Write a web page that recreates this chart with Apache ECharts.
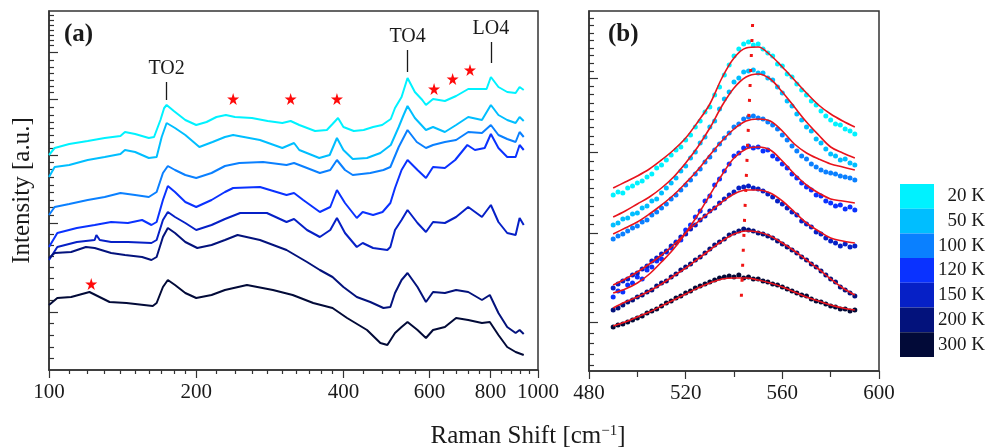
<!DOCTYPE html>
<html>
<head>
<meta charset="utf-8">
<script src="https://cdn.jsdelivr.net/npm/echarts@6/dist/echarts.min.js"></script>
<style>
  html, body { margin: 0; padding: 0; background: #fff; }
  #chart { width: 988px; height: 448px; }
</style>
</head>
<body>
<div id="chart"></div>
<script>
// ---- temperatures and colours ----
const TEMPS = ['20 K', '50 K', '100 K', '120 K', '150 K', '200 K', '300 K'];
const COLORS = ['#00F2FF', '#00BEFF', '#0A80FF', '#0A32FF', '#0620C6', '#03127C', '#020A38'];

// ---- (a) Raman spectra: [Raman shift cm^-1, intensity a.u.] ----
const spec20 = [[100,215],[102.7,222],[110,226],[120,229],[130,232],[140,234],[143,238],[150,236],[160,232],[164,233],[169,250],[172,262],[174,265],[180,259],[190,250],[200,245],[210,248],[220,253],[230,255],[240,253],[260,252],[280,249],[300,247],[312,249],[325,245],[350,239],[370,240],[380,246],[390,252],[400,243],[420,239],[440,240],[460,243],[480,245],[500,251],[510,262],[526,273],[541,292],[560,278],[580,270],[590,265],[610,271],[645,269],[680,274],[720,281],[785,281],[801,293],[830,283],[865,278],[900,277],[917,283],[935,280]];
const spec50 = [[100,193],[102.7,203],[110,205],[120,210],[130,213],[140,216],[143,220],[150,218],[160,212],[166,213],[170,233],[174,247],[181,242],[190,235],[203,223],[216,228],[229,233],[238,235],[270,230],[300,222],[317,227],[325,220],[357,212],[375,215],[388,232],[400,220],[418,211],[447,212],[476,217],[500,225],[519,243],[530,254],[541,264],[560,252],[590,240],[610,243],[645,238],[680,245],[720,253],[768,250],[801,265],[830,255],[865,250],[900,247],[917,253],[935,249]];
const spec100 = [[100,155],[102.7,163],[110,166],[120,170],[130,173],[140,177],[150,175],[160,173],[166,178],[171,197],[175,204],[181,200],[190,195],[200,192],[215,197],[229,204],[245,207],[274,208],[306,205],[317,207],[337,202],[358,197],[376,200],[388,210],[403,200],[418,195],[454,197],[483,200],[499,203],[519,223],[541,240],[565,228],[590,222],[610,225],[645,228],[680,230],[720,238],[768,237],[801,245],[830,235],[865,231],[900,228],[917,238],[935,233]];
const spec120 = [[100,123],[104,137],[114,142],[124,145],[134,148],[145,147],[155,150],[162,145],[166,148],[171,170],[175,184],[181,178],[190,168],[200,163],[215,170],[229,178],[238,182],[270,183],[306,175],[317,177],[331,170],[358,158],[376,163],[388,180],[403,167],[426,152],[438,158],[460,155],[481,158],[499,167],[510,182],[526,200],[541,210],[567,200],[590,192],[610,203],[645,202],[677,210],[717,225],[743,220],[778,222],[801,236],[830,222],[865,213],[900,213],[917,225],[935,220]];
const spec150 = [[100,110],[104,123],[114,128],[124,130],[125,135],[127,130],[134,128],[145,128],[162,127],[166,130],[171,150],[175,158],[181,153],[190,147],[200,140],[215,145],[229,151],[246,157],[279,157],[306,148],[317,151],[337,140],[358,133],[376,140],[388,152],[403,137],[426,123],[438,127],[460,122],[492,120],[499,123],[510,140],[526,150],[541,160],[567,147],[590,138],[610,148],[645,147],[680,153],[720,163],[768,153],[801,165],[830,148],[865,137],[900,135],[917,152],[935,145]];
const spec200 = [[100,112],[102.7,117],[111,118],[119,123],[124,122],[134,117],[143,115],[155,113],[162,110],[166,113],[171,133],[175,142],[181,137],[190,128],[201,122],[215,125],[229,130],[243,135],[270,130],[306,120],[337,108],[358,100],[380,93],[400,83],[426,73],[454,68],[483,62],[499,63],[510,77],[526,90],[541,97],[567,83],[590,68],[610,78],[645,77],[680,80],[720,78],[768,70],[797,75],[830,57],[865,43],[900,37],[917,40],[935,36]];
const spec300 = [[100,65],[104,72],[111,73],[121,78],[133,68],[144,67],[163,64],[166,67],[171,83],[175,90],[181,85],[190,77],[200,72],[215,75],[229,80],[254,85],[287,80],[315,75],[347,67],[380,62],[407,52],[447,40],[476,27],[492,25],[510,37],[526,43],[541,48],[567,40],[590,32],[610,40],[645,43],[680,52],[720,50],[768,47],[797,48],[830,35],[865,23],[900,18],[935,15]];
const SPECTRA = [spec20, spec50, spec100, spec120, spec150, spec200, spec300];

// phonon mode markers and impurity stars in (a)
const modeNames = ['TO2', 'TO4', 'LO4'];
const modeShift = [174, 541, 801];
const modeTickLow = [270, 298, 307];
const modeTickHigh = [288, 320, 328];
const starMarks = [[122,86],[238,271],[312,271],[388,271],[613,281],[669,291],[726,300]];

// ---- (b) TO4 band: measured points and fitted profiles ----
const shiftB = [490,492,494,496,498,500,502,504,506,508,510,512,514,516,518,520,522,524,526,528,530,532,534,536,538,540,542,544,546,548,550,552,554,556,558,560,562,564,566,568,570,572,574,576,578,580,582,584,586,588,590];
const pts20 = [176,179,178,183,185,188,190,194,197,203,206,211,216,221,224,231,236,244,250,259,264,276,284,296,306,315,322,327,329,326,327,322,318,315,307,305,297,294,287,281,276,270,266,260,255,251,247,246,242,240,237];
const pts50 = [146,148,152,153,157,158,163,165,170,172,178,183,188,193,200,205,213,219,228,234,244,250,262,272,279,289,293,299,300,301,298,298,293,291,284,278,270,265,257,251,244,240,232,228,222,217,215,211,212,208,206];
const pts100 = [132,135,137,140,143,145,149,151,156,159,163,167,172,176,181,186,191,197,202,209,214,221,227,233,238,244,247,252,254,255,253,252,249,246,242,236,231,225,220,215,212,207,204,201,199,198,197,195,194,193,191];
const pts120 = [74,80,79,86,88,94,92,101,104,110,112,119,123,129,131,141,146,154,160,170,175,186,192,200,207,215,218,223,225,223,224,220,221,215,212,207,203,197,193,188,184,181,176,175,170,168,165,166,162,164,161];
const pts150 = [83,87,90,92,96,98,102,105,110,113,117,120,125,128,134,137,142,146,151,155,160,163,168,172,176,179,183,184,185,183,182,180,177,174,170,167,163,159,156,150,147,144,139,137,133,130,128,125,127,124,125];
const pts200 = [61,63,66,69,71,74,76,79,81,85,88,90,94,97,101,104,107,111,114,118,122,126,129,132,136,138,140,142,141,140,138,137,135,133,130,127,124,121,118,114,111,107,104,100,96,92,89,84,81,78,75];
const pts300 = [44,46,47,49,51,53,55,58,60,62,65,68,70,73,75,78,80,83,85,87,89,91,93,94,95,94,96,93,94,92,92,90,89,87,86,84,82,80,78,76,75,72,70,69,67,65,64,62,62,60,61];
const POINTS = [pts20, pts50, pts100, pts120, pts150, pts200, pts300];

const fitShift = [490,495,500,505,510,515,520,525,530,535,540,545,550,555,560,565,570,575,580,585,590];
const fit20 = [183,189,195,202,211,221,233,249,267,293,313,323,324,316,304,291,278,266,257,250,244];
const fit50 = [154,160,167,174,183,194,208,224,243,265,283,294,297,292,279,264,249,236,224,218,213];
const fit100 = [137,143,149,157,166,176,188,201,216,230,242,250,252,250,240,227,218,212,207,204,201];
const fit120 = [78,82,88,97,109,122,138,156,176,196,213,222,224,221,210,197,186,178,172,170,168];
const fit150 = [86,92,99,107,116,126,138,149,159,169,177,181,181,178,170,159,148,140,133,130,128];
const fit200 = [63,69,74,80,87,95,103,112,121,130,137,140,139,135,128,120,111,102,92,83,76];
const fit300 = [45,49,54,59,65,71,77,83,88,92,93,93,91,88,84,79,74,70,66,63,61];
const FITS = [fit20, fit50, fit100, fit120, fit150, fit200, fit300];

// peak-position guide through the band maxima (20 K at top, 300 K at bottom)
const peakGuide = [[547.7, 347], [542.9, 66]];

// ---- axis ticks ----
const aMajorX = [100, 200, 400, 600, 800, 1000];
const aMinorX = [110,120,130,140,150,160,170,180,190,220,240,260,280,300,320,340,360,380,440,480,520,560,640,680,720,760,840,880,920,960];
const aMajorY = [58, 147, 215, 271, 318];
const aMinorY = [12,23,35,47,70,81,92,103,114,125,136,155,163,170,178,185,193,201,208,222,228,235,242,248,255,263,278,284,290,297,303,310,325,330,335,340,345,350,355];
const bMajorY = [49, 138, 219, 293];
const bMinorY = [6,17,28,38,59,69,79,89,98,108,118,128,147,156,165,174,183,192,201,210,227,235,244,252,260,268,277,285,300,308,316,323,331,338,346,353];

const FONT = '"Liberation Serif", "Times New Roman", serif';
const INK = '#1a1a1a';
const FRAME = '#333';
const STAR = 'path://M50,0 L61,35 L98,35 L68,57 L79,91 L50,70 L21,91 L32,57 L2,35 L39,35 Z';

const chart = echarts.init(document.getElementById('chart'), null, { renderer: 'canvas' });

const hidden = { show: false };
function tickAxis(base, ticks, len, inside) {
  return Object.assign({
    axisLine: hidden, axisLabel: hidden, splitLine: hidden,
    axisTick: { show: true, inside: inside, length: len, customValues: ticks,
                lineStyle: { color: FRAME, width: 1.2 } }
  }, base);
}

const series = [];
SPECTRA.forEach((d, i) => {
  series.push({
    type: 'line', name: TEMPS[i], xAxisIndex: 0, yAxisIndex: 0,
    data: d, showSymbol: false, color: COLORS[i],
    lineStyle: { width: 2, color: COLORS[i] }, z: 3
  });
});
series.push({
  type: 'scatter', name: 'impurity', xAxisIndex: 0, yAxisIndex: 0,
  data: starMarks, symbol: STAR, symbolSize: 12,
  itemStyle: { color: '#FF0A0A', opacity: 1 }, z: 4,
  markLine: {
    silent: true, symbol: ['none', 'none'],
    lineStyle: { color: INK, width: 1.3, type: 'solid' },
    label: { show: true, position: 'end', formatter: '{b}', distance: 3,
             fontFamily: FONT, fontSize: 20, color: INK },
    data: modeNames.map((n, i) => [
      { name: n, coord: [modeShift[i], modeTickLow[i]] },
      { coord: [modeShift[i], modeTickHigh[i]] }
    ])
  }
});
POINTS.forEach((p, i) => {
  series.push({
    type: 'scatter', name: TEMPS[i], xAxisIndex: 2, yAxisIndex: 2,
    data: shiftB.map((x, k) => [x, p[k]]),
    symbolSize: 5, color: COLORS[i], itemStyle: { color: COLORS[i], opacity: 1 }, z: 2
  });
});
FITS.forEach((f, i) => {
  series.push({
    type: 'line', name: TEMPS[i] + ' fit', xAxisIndex: 2, yAxisIndex: 2,
    data: fitShift.map((x, k) => [x, f[k]]), smooth: 0.35, showSymbol: false,
    lineStyle: { width: 1.6, color: '#E8131C' }, color: '#E8131C', z: 3
  });
});
series.push({
  type: 'line', name: 'peak', xAxisIndex: 2, yAxisIndex: 2,
  data: peakGuide, showSymbol: false,
  lineStyle: { width: 3, color: '#F01414', type: [3, 12] }, z: 4
});

chart.setOption({
  animation: false,
  backgroundColor: '#fff',
  grid: [
    { left: 49, top: 11, width: 489, height: 359, show: true, borderColor: FRAME, borderWidth: 1.5, outerBoundsMode: 'none' },
    { left: 589, top: 11, width: 290, height: 360, show: true, borderColor: FRAME, borderWidth: 1.5, outerBoundsMode: 'none' }
  ],
  xAxis: [
    { gridIndex: 0, type: 'log', logBase: 10, min: 100, max: 1000, position: 'bottom',
      axisLine: { lineStyle: { color: FRAME, width: 1.5 } },
      axisTick: { inside: false, length: 8, customValues: aMajorX, lineStyle: { color: FRAME, width: 1.2 } },
      axisLabel: { customValues: aMajorX, formatter: v => String(Math.round(v)), margin: 12,
                   fontFamily: FONT, fontSize: 21, color: INK },
      splitLine: hidden },
    tickAxis({ gridIndex: 0, type: 'log', logBase: 10, min: 100, max: 1000, position: 'bottom' }, aMinorX, 4, false),
    { gridIndex: 1, type: 'value', min: 480, max: 600, interval: 40, position: 'bottom',
      axisLine: { lineStyle: { color: FRAME, width: 1.5 } },
      axisTick: { inside: false, length: 8, lineStyle: { color: FRAME, width: 1.2 } },
      minorTick: { show: true, splitNumber: 2, length: 6, lineStyle: { color: FRAME, width: 1.2 } },
      axisLabel: { margin: 12, fontFamily: FONT, fontSize: 21, color: INK },
      splitLine: hidden, minorSplitLine: hidden }
  ],
  yAxis: [
    { gridIndex: 0, type: 'value', min: 0, max: 359, position: 'left',
      name: 'Intensity [a.u.]', nameLocation: 'middle', nameGap: 14,
      nameTextStyle: { fontFamily: FONT, fontSize: 25, color: INK },
      axisLine: { lineStyle: { color: FRAME, width: 1.5 } },
      axisTick: { inside: true, length: 9, customValues: aMajorY, lineStyle: { color: FRAME, width: 1.2 } },
      axisLabel: hidden, splitLine: hidden },
    tickAxis({ gridIndex: 0, type: 'value', min: 0, max: 359, position: 'left' }, aMinorY, 5, true),
    { gridIndex: 1, type: 'value', min: 0, max: 360, position: 'left',
      axisLine: { lineStyle: { color: FRAME, width: 1.5 } },
      axisTick: { inside: true, length: 9, customValues: bMajorY, lineStyle: { color: FRAME, width: 1.2 } },
      axisLabel: hidden, splitLine: hidden },
    tickAxis({ gridIndex: 1, type: 'value', min: 0, max: 360, position: 'left' }, bMinorY, 5, true)
  ],
  legend: {
    data: TEMPS, orient: 'vertical', left: 900, top: 184,
    icon: 'rect', itemWidth: 34, itemHeight: 24.7, itemGap: 0, selectedMode: false,
    padding: 0,
    formatter: name => '{r|' + name + '}',
    textStyle: { rich: { r: { width: 46, align: 'right', fontFamily: FONT, fontSize: 19, color: INK } } }
  },
  graphic: [
    { type: 'text', left: 64, top: 22, style: { text: '(a)', font: 'bold 25px ' + FONT, fill: INK } },
    { type: 'text', left: 608, top: 22, style: { text: '(b)', font: 'bold 25px ' + FONT, fill: INK } },
    { type: 'text', x: 528, y: 436,
      style: { text: '{t|Raman Shift [cm}{s|−1}{t|]}', align: 'center', verticalAlign: 'middle',
               rich: { t: { fontFamily: FONT, fontSize: 25, fill: INK },
                       s: { fontFamily: FONT, fontSize: 15, fill: INK, verticalAlign: 'top', padding: [0, 0, 10, 0] } } } }
  ],
  series: series
});
</script>
</body>
</html>
